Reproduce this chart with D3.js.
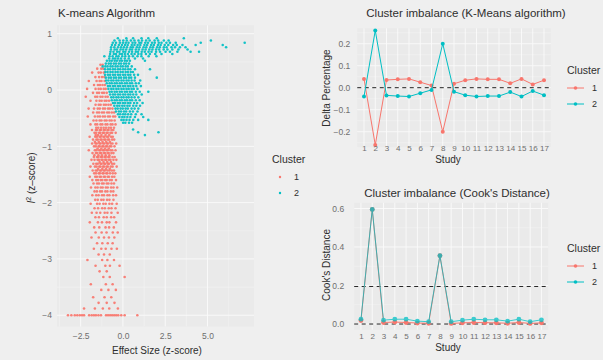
<!DOCTYPE html>
<html>
<head>
<meta charset="utf-8">
<script src="https://cdn.jsdelivr.net/npm/d3@7"></script>
<style>
  body { margin: 0; background: #efefef; }
  svg { display: block; font-family: "Liberation Sans", Arial, sans-serif; }
</style>
</head>
<body>
<div id="chart"></div>
<script>
// ---- data ----
var clusters = ["1", "2"];
var colors = ["#F8766D", "#00BFC4"];

// scatter rows: [y, x1, x2, ...]
var redRows = [
  [0.45, -1.2, -1.33],
  [0.38, -1.16, -1.28, -1.52],
  [0.31, -1.13, -1.31, -1.44, -1.82],
  [0.23, -1.1, -1.24, -1.41, -1.63],
  [0.16, -1.08, -1.27, -1.38, -1.56, -2.02],
  [0.09, -1.07, -1.21, -1.36, -1.48, -1.71],
  [0.02, -1.02, -1.14, -1.31, -1.44, -1.62, -2.12],
  [-0.05, -0.96, -1.12, -1.23, -1.41, -1.53, -1.77],
  [-0.12, -0.9, -1.03, -1.21, -1.33, -1.52, -1.64, -2.2],
  [-0.19, -0.82, -0.97, -1.08, -1.26, -1.38, -1.57, -1.92],
  [-0.26, -0.72, -0.86, -1.01, -1.13, -1.32, -1.43, -1.62],
  [-0.33, -0.62, -0.77, -0.88, -1.06, -1.18, -1.37, -1.49, -1.71, -2.03],
  [-0.40, -0.52, -0.66, -0.82, -0.93, -1.12, -1.24, -1.41, -1.53, -1.76],
  [-0.47, -0.46, -0.58, -0.77, -0.88, -1.06, -1.19, -1.36, -1.49, -1.66, -2.08],
  [-0.54, -0.49, -0.67, -0.79, -0.97, -1.08, -1.27, -1.38, -1.57, -1.74],
  [-0.61, -0.44, -0.62, -0.73, -0.92, -1.03, -1.22, -1.33, -1.52, -1.63, -1.92],
  [-0.67, -0.53, -0.71, -0.84, -1.0, -1.14, -1.29, -1.46, -1.58],
  [-0.71, -1.83, -1.6, -1.52, -1.36, -1.3, -1.14, -1.07, -0.92, -0.85, -0.68, -0.57],
  [-0.76, -1.68, -1.58, -1.41, -1.34, -1.19, -1.12, -0.97, -0.9, -0.74, -0.64, -0.43],
  [-0.80, -1.47, -1.27, -1.03, -0.81, -1.61],
  [-0.83, -1.97, -1.64, -1.54, -1.38, -1.31, -1.16, -1.09, -0.94, -0.87, -0.7, -0.6],
  [-0.88, -1.77, -1.57, -1.49, -1.33, -1.26, -1.11, -1.04, -0.89, -0.82, -0.64, -0.52],
  [-0.92, -1.43, -1.21, -0.99, -0.77, -1.66],
  [-0.95, -1.82, -1.62, -1.55, -1.39, -1.32, -1.17, -1.1, -0.95, -0.88, -0.72, -0.62, -0.4],
  [-1.00, -1.71, -1.6, -1.44, -1.37, -1.22, -1.15, -1.0, -0.93, -0.78, -0.69, -0.5],
  [-1.04, -1.5, -1.28, -1.06, -0.84],
  [-1.07, -2.02, -1.66, -1.57, -1.41, -1.34, -1.19, -1.12, -0.97, -0.9, -0.74, -0.63, -0.44],
  [-1.12, -1.8, -1.6, -1.51, -1.35, -1.28, -1.13, -1.06, -0.91, -0.84, -0.68, -0.56],
  [-1.16, -1.45, -1.24, -1.02, -0.8, -1.69],
  [-1.19, -1.72, -1.54, -1.46, -1.31, -1.24, -1.09, -1.02, -0.87, -0.8, -0.62, -0.49],
  [-1.24, -1.86, -1.68, -1.5, -1.42, -1.27, -1.2, -1.05, -0.98, -0.83, -0.74, -0.56, -0.39],
  [-1.28, -1.38, -1.15, -0.93, -0.71],
  [-1.31, -1.75, -1.58, -1.49, -1.33, -1.26, -1.11, -1.04, -0.89, -0.82, -0.64, -0.52],
  [-1.36, -1.92, -1.66, -1.56, -1.4, -1.33, -1.18, -1.11, -0.96, -0.89, -0.72, -0.61, -0.37],
  [-1.40, -1.47, -1.22, -1.0, -0.78],
  [-1.43, -1.79, -1.61, -1.52, -1.36, -1.29, -1.14, -1.07, -0.92, -0.8, -0.66, -0.53],
  [-1.48, -1.7, -1.59, -1.43, -1.36, -1.21, -1.14, -0.99, -0.92, -0.76, -0.6, -0.45],
  [-1.54, -1.96, -1.64, -1.54, -1.38, -1.3, -1.14, -1.06, -0.9, -0.82, -0.64, -0.51],
  [-1.60, -1.81, -1.58, -1.47, -1.31, -1.22, -1.05, -0.96, -0.78, -0.66, -0.41],
  [-1.66, -1.74, -1.53, -1.42, -1.24, -1.14, -0.96, -0.86, -0.68, -0.53],
  [-1.73, -1.89, -1.63, -1.5, -1.31, -1.2, -1.01, -0.9, -0.7, -0.56, -0.34],
  [-1.80, -1.68, -1.54, -1.35, -1.24, -1.04, -0.92, -0.72, -0.57],
  [-1.87, -1.81, -1.58, -1.44, -1.24, -1.12, -0.92, -0.8, -0.58, -0.41],
  [-1.95, -1.64, -1.49, -1.28, -1.15, -0.94, -0.8, -0.56],
  [-2.02, -1.91, -1.53, -1.38, -1.16, -1.02, -0.8, -0.64, -0.37],
  [-2.10, -1.68, -1.47, -1.23, -1.07, -0.84, -0.68, -0.44],
  [-2.18, -1.84, -1.56, -1.34, -1.08, -0.92, -0.68, -0.31],
  [-2.26, -1.63, -1.42, -1.14, -0.96, -0.7, -0.52],
  [-2.35, -1.96, -1.48, -1.24, -0.96, -0.8, -0.41],
  [-2.44, -1.7, -1.4, -1.03, -0.82, -0.54],
  [-2.53, -1.62, -1.26, -0.97, -0.6, -0.31],
  [-2.62, -1.86, -1.43, -1.12, -0.83, -0.51],
  [-2.72, -1.53, -1.22, -0.9, -0.61],
  [-2.82, -1.72, -1.28, -1.02, -0.68, -0.36],
  [-2.92, -1.44, -1.12, -0.78],
  [-3.02, -2.1, -1.23, -0.92, -0.53],
  [-3.12, -1.62, -1.04, -0.77, -0.2],
  [-3.22, -1.38, -0.96],
  [-3.32, -1.16, -0.78, 0.1],
  [-3.45, -1.9, -1.01, -0.61],
  [-3.55, -1.28, -0.86, -0.42],
  [-3.68, -1.76, -1.09, -0.69],
  [-3.78, -1.44, -0.96, -0.5],
  [-3.88, -2.3, -1.66, -1.19, -0.81, -0.3],
  [-4.00, -3.25, -3.05, -2.85, -2.7, -2.55, -2.42, -2.3, -2.0, -1.85, -1.72, -1.6, -1.45, -1.3,
          -1.0, -0.88, -0.76, -0.64, -0.52, -0.4, -0.28, -0.1, 0.1, 0.85]
];

var cyanRows = [
  [0.92, -0.3, 0.2, 0.6, 1.1, 1.5, 2.0, 3.6],
  [0.88, -0.5, -0.2, 0.02, 0.23, 0.47, 0.68, 0.92, 1.13, 1.37, 1.58, 1.87, 2.08, 2.42, 2.7, 5.2],
  [0.84, -0.6, -0.41, -0.18, 0.0, 0.17, 0.33, 0.57, 0.73, 0.97, 1.08, 1.32, 1.48, 1.72, 1.88, 2.12, 2.28, 2.57, 2.78, 3.12, 4.6, 7.2],
  [0.80, -0.65, -0.46, -0.24, -0.06, 0.12, 0.28, 0.52, 0.68, 0.87, 1.03, 1.27, 1.43, 1.67, 1.83, 2.07, 2.23, 2.47, 2.68, 2.97, 3.18, 3.52, 4.3, 5.9],
  [0.76, -0.7, -0.51, -0.29, -0.11, 0.06, 0.24, 0.46, 0.59, 0.82, 0.98, 1.22, 1.38, 1.62, 1.78, 2.02, 2.18, 2.42, 2.58, 2.87, 3.08, 3.37, 3.7, 6.1],
  [0.72, -0.71, -0.49, -0.36, -0.14, 0.01, 0.19, 0.41, 0.54, 0.76, 0.94, 1.16, 1.34, 1.56, 1.74, 1.96, 2.14, 2.41, 2.63, 2.92, 3.28, 3.82],
  [0.68, -0.74, -0.56, -0.34, -0.21, 0.02, 0.14, 0.36, 0.54, 0.76, 0.89, 1.11, 1.29, 1.51, 1.69, 1.96, 2.19, 2.52, 2.78, 3.22, 4.0, 4.5],
  [0.64, -0.76, -0.54, -0.41, -0.19, -0.06, 0.11, 0.29, 0.51, 0.69, 0.91, 1.09, 1.36, 1.59, 1.91, 2.28, 2.92],
  [0.60, -1.1, -0.79, -0.61, -0.39, -0.26, -0.04, 0.14, 0.36, 0.59, 0.86, 1.09, 1.52, 1.98],
  [0.56, -0.81, -0.59, -0.46, -0.29, -0.11, 0.11, 0.34, 0.71, 1.19],
  [0.52, -0.95, -0.79, -0.66, -0.49, -0.36, -0.19, -0.06, 0.11, 0.24, 0.41, 1.3],
  [0.47, -1.01, -0.84, -0.71, -0.54, -0.41, -0.24, -0.11, 0.06, 0.19, 0.36],
  [0.42, -1.2, -1.04, -0.91, -0.74, -0.61, -0.44, -0.31, -0.14, -0.01, 0.16, 0.29, 0.52],
  [0.37, -1.06, -0.89, -0.76, -0.59, -0.46, -0.29, -0.16, 0.01, 0.14, 0.31, 0.44, 0.71, 1.6],
  [0.32, -1.04, -0.91, -0.74, -0.61, -0.44, -0.31, -0.14, -0.01, 0.16, 0.29, 0.46, 0.59],
  [0.27, -1.06, -0.89, -0.76, -0.59, -0.46, -0.29, -0.16, 0.01, 0.14, 0.31, 0.44, 0.66, 0.89],
  [0.22, -1.01, -0.84, -0.71, -0.54, -0.41, -0.24, -0.11, 0.06, 0.19, 0.36, 0.49, 0.71, 2.0],
  [0.17, -0.99, -0.86, -0.69, -0.56, -0.39, -0.26, -0.09, 0.04, 0.21, 0.34, 0.51, 0.69, 1.02],
  [0.12, -0.96, -0.79, -0.66, -0.49, -0.36, -0.19, -0.06, 0.11, 0.24, 0.41, 0.54, 0.76, 0.94],
  [0.07, -0.89, -0.76, -0.59, -0.46, -0.29, -0.16, 0.01, 0.14, 0.31, 0.44, 0.61, 0.79, 1.06],
  [0.02, -0.86, -0.69, -0.56, -0.39, -0.26, -0.09, 0.04, 0.21, 0.34, 0.51, 0.64, 0.86],
  [-0.03, -0.79, -0.66, -0.49, -0.36, -0.19, -0.06, 0.11, 0.24, 0.41, 0.54, 0.76, 0.99, 1.5],
  [-0.08, -0.76, -0.59, -0.46, -0.29, -0.16, 0.01, 0.14, 0.31, 0.44, 0.61, 0.79, 1.11],
  [-0.13, -0.69, -0.56, -0.39, -0.26, -0.09, 0.04, 0.21, 0.34, 0.51, 0.69, 0.91],
  [-0.18, -0.66, -0.49, -0.36, -0.19, -0.06, 0.11, 0.24, 0.41, 0.54, 0.76, 0.99],
  [-0.23, -0.59, -0.46, -0.29, -0.16, 0.01, 0.14, 0.31, 0.44, 0.66, 0.84, 1.16],
  [-0.28, -0.51, -0.34, -0.21, -0.04, 0.09, 0.26, 0.39, 0.61, 0.79, 1.01],
  [-0.33, -0.44, -0.31, -0.14, -0.01, 0.16, 0.29, 0.51, 0.69, 0.91],
  [-0.38, -0.41, -0.24, -0.11, 0.06, 0.19, 0.41, 0.59, 0.86],
  [-0.43, -0.29, -0.16, 0.01, 0.14, 0.31, 0.49, 0.76, 1.1],
  [-0.48, -0.21, -0.04, 0.09, 0.26, 0.44, 0.71, 1.2],
  [-0.53, -0.09, 0.04, 0.21, 0.39, 0.61, 0.9, 1.5],
  [-0.58, 0.01, 0.14, 0.36, 0.54],
  [-0.70, 0.6],
  [-0.75, 0.9, 2.1],
  [-0.80, 1.3]
];

// line panels
var studies = [1, 2, 3, 4, 5, 6, 7, 8, 9, 10, 11, 12, 13, 14, 15, 16, 17];
var delta1 = [0.04, -0.26, 0.035, 0.038, 0.04, 0.025, 0.01, -0.2, 0.018, 0.034, 0.04, 0.038, 0.038, 0.02, 0.04, 0.015, 0.034];
var delta2 = [-0.04, 0.26, -0.035, -0.038, -0.04, -0.025, -0.01, 0.2, -0.018, -0.034, -0.04, -0.038, -0.038, -0.02, -0.04, -0.015, -0.034];
var cook1 = [0.018, 0.595, 0.008, 0.01, 0.008, 0.005, 0.004, 0.355, 0.003, 0.006, 0.008, 0.007, 0.006, 0.004, 0.008, 0.003, 0.006];
var cook2 = [0.025, 0.595, 0.02, 0.025, 0.025, 0.015, 0.012, 0.355, 0.012, 0.02, 0.025, 0.022, 0.022, 0.015, 0.025, 0.012, 0.022];
var cookCutoff = 0.195;

var effectTicks = [-2.5, 0, 2.5, 5];
var i2Ticks = [-4, -3, -2, -1, 0, 1];
var deltaTicks = [-0.2, -0.1, 0, 0.1, 0.2];
var cookTicks = [0, 0.2, 0.4, 0.6];

// ---- drawing ----
var svg = d3.select("#chart").append("svg")
    .attr("width", 603)
    .attr("height", 360);

// soft focus like the photographed original
svg.append("defs").append("filter").attr("id", "soft")
    .append("feGaussianBlur").attr("stdDeviation", 0.45);

svg.append("rect").attr("width", 603).attr("height", 360).attr("fill", "#efefef");

var tickColor = "#6e6e6e", titleColor = "#2e2e2e";

// panel background + grid
function panel(x, y, xMajor, xMinor, yMajor, yMinor) {
    var g = svg.append("g");
    var xr = x.range(), yr = y.range();
    g.append("rect")
        .attr("x", xr[0]).attr("y", yr[1])
        .attr("width", xr[1] - xr[0]).attr("height", yr[0] - yr[1])
        .attr("fill", "#eaeaea");
    g.selectAll(".vmin").data(xMinor).enter().append("line")
        .attr("x1", d => x(d)).attr("x2", d => x(d))
        .attr("y1", yr[0]).attr("y2", yr[1])
        .attr("stroke", "#f5f5f5").attr("stroke-width", 0.5);
    g.selectAll(".hmin").data(yMinor).enter().append("line")
        .attr("y1", d => y(d)).attr("y2", d => y(d))
        .attr("x1", xr[0]).attr("x2", xr[1])
        .attr("stroke", "#f5f5f5").attr("stroke-width", 0.5);
    g.selectAll(".vmaj").data(xMajor).enter().append("line")
        .attr("x1", d => x(d)).attr("x2", d => x(d))
        .attr("y1", yr[0]).attr("y2", yr[1])
        .attr("stroke", "#fafafa").attr("stroke-width", 0.9);
    g.selectAll(".hmaj").data(yMajor).enter().append("line")
        .attr("y1", d => y(d)).attr("y2", d => y(d))
        .attr("x1", xr[0]).attr("x2", xr[1])
        .attr("stroke", "#fafafa").attr("stroke-width", 0.9);
    return g;
}

function styleAxis(g, size) {
    g.select(".domain").remove();
    g.selectAll(".tick line").remove();
    g.selectAll("text")
        .attr("fill", tickColor)
        .style("font-size", size + "px")
        .style("font-family", "'Liberation Sans', Arial, sans-serif");
}

function text(x, y, str, size, anchor, color) {
    return svg.append("text")
        .attr("x", x).attr("y", y)
        .attr("text-anchor", anchor || "start")
        .attr("fill", color || titleColor)
        .style("font-size", size + "px")
        .text(str);
}

// ===== left: K-means scatter =====
var xS = d3.scaleLinear().domain([-3.9, 7.75]).range([57, 254]);
var yS = d3.scaleLinear().domain([-4.2, 1.15]).range([326.5, 25.3]);

panel(xS, yS, effectTicks, [-3.75, -1.25, 1.25, 3.75, 6.25], i2Ticks, [-3.5, -2.5, -1.5, -0.5, 0.5]);

function rowsToPoints(rows) {
    return rows.flatMap(r => r.slice(1).map(x => ({ x: x, y: r[0] })));
}

var scatter = svg.append("g").attr("filter", "url(#soft)");
[redRows, cyanRows].forEach(function(rows, i) {
    scatter.append("g").selectAll("circle")
        .data(rowsToPoints(rows))
        .enter().append("circle")
        .attr("cx", d => xS(d.x))
        .attr("cy", d => yS(d.y))
        .attr("r", 1.3)
        .attr("fill", colors[i])
        .attr("opacity", 0.92);
});

var gx = svg.append("g").attr("transform", "translate(0,326.5)")
    .call(d3.axisBottom(xS).tickValues(effectTicks).tickFormat(d3.format(".1f")).tickSize(0).tickPadding(6));
styleAxis(gx, 8.5);
var gy = svg.append("g").attr("transform", "translate(57,0)")
    .call(d3.axisLeft(yS).tickValues(i2Ticks).tickFormat(d3.format("d")).tickSize(0).tickPadding(5));
styleAxis(gy, 8.5);

text(58, 17, "K-means Algorithm", 11.5);
text(157, 354, "Effect Size (z-score)", 10, "middle");
var yt = svg.append("text")
    .attr("transform", "translate(35,178) rotate(-90)")
    .attr("text-anchor", "middle")
    .attr("fill", titleColor)
    .style("font-size", "10px");
yt.append("tspan").style("font-style", "italic").text("I");
yt.append("tspan").attr("dy", -4).style("font-size", "7px").text("2");
yt.append("tspan").attr("dy", 4).text(" (z\u2013score)");

// left legend
text(272, 163, "Cluster", 10.5);
clusters.forEach(function(c, i) {
    svg.append("circle").attr("cx", 280).attr("cy", 177 + i * 16).attr("r", 1.2).attr("fill", colors[i]);
    text(294, 180 + i * 16, c, 9);
});

// ===== line panels =====
function linePanel(opt) {
    var x = d3.scaleLinear().domain([0.4, 17.6]).range(opt.xRange);
    var y = d3.scaleLinear().domain(opt.yDomain).range(opt.yRange);
    panel(x, y, studies, [], opt.yTicks, opt.yMinor);

    svg.append("g").selectAll("line")
        .data(opt.refs).enter().append("line")
        .attr("x1", opt.xRange[0]).attr("x2", opt.xRange[1])
        .attr("y1", d => y(d)).attr("y2", d => y(d))
        .attr("stroke", "#222").attr("stroke-width", 1)
        .attr("stroke-dasharray", "4,3.5");

    var line = d3.line().x((d, i) => x(studies[i])).y(d => y(d));
    opt.series.forEach(function(vals, k) {
        var g = svg.append("g").attr("opacity", k === 1 ? opt.topOpacity : 1);
        g.append("path").datum(vals)
            .attr("d", line)
            .attr("fill", "none")
            .attr("stroke", colors[k])
            .attr("stroke-width", 1);
        g.selectAll("circle").data(vals).enter().append("circle")
            .attr("cx", (d, i) => x(studies[i]))
            .attr("cy", d => y(d))
            .attr("r", opt.r)
            .attr("fill", colors[k]);
    });

    var ax = svg.append("g").attr("transform", "translate(0," + opt.xAxisY + ")")
        .call(d3.axisBottom(x).tickValues(studies).tickFormat(d3.format("d")).tickSize(0).tickPadding(0));
    styleAxis(ax, 8);
    var ay = svg.append("g").attr("transform", "translate(" + opt.xRange[0] + ",0)")
        .call(d3.axisLeft(y).tickValues(opt.yTicks).tickFormat(d3.format(".1f")).tickSize(0).tickPadding(opt.yPad));
    styleAxis(ay, 8.5);

    text(opt.titleX, opt.titleY, opt.title, 11.5, "middle");
    text(448, opt.xAxisY + 18, "Study", 10, "middle");
    svg.append("text")
        .attr("transform", "translate(330," + opt.yTitleY + ") rotate(-90)")
        .attr("text-anchor", "middle")
        .attr("fill", titleColor)
        .style("font-size", "10px")
        .text(opt.yTitle);

    // legend
    text(567, opt.legendY, "Cluster", 10.5);
    clusters.forEach(function(c, i) {
        var ly = opt.legendY + 14 + i * 16;
        svg.append("line").attr("x1", 567).attr("x2", 584).attr("y1", ly).attr("y2", ly)
            .attr("stroke", colors[i]).attr("stroke-width", 1);
        svg.append("circle").attr("cx", 575.5).attr("cy", ly).attr("r", 1.8).attr("fill", colors[i]);
        text(592, ly + 3, c, 9);
    });
}

linePanel({
    xRange: [357.25, 550.75],
    yDomain: [-0.27, 0.27], yRange: [147.1, 28.3],
    yTicks: deltaTicks, yMinor: [-0.25, -0.15, -0.05, 0.05, 0.15, 0.25],
    refs: [0],
    series: [delta1, delta2], r: 2, topOpacity: 1,
    xAxisY: 145, yPad: 7,
    title: "Cluster imbalance (K-Means algorithm)", titleX: 466, titleY: 17,
    yTitle: "Delta Percentage", yTitleY: 88,
    legendY: 74
});

linePanel({
    xRange: [354.2, 548.2],
    yDomain: [-0.03, 0.63], yRange: [329.8, 202.7],
    yTicks: cookTicks, yMinor: [0.1, 0.3, 0.5],
    refs: [0, cookCutoff],
    series: [cook1, cook2], r: 2.4, topOpacity: 0.75,
    xAxisY: 333, yPad: 10,
    title: "Cluster imbalance (Cook's Distance)", titleX: 457, titleY: 197,
    yTitle: "Cook's Distance", yTitleY: 265,
    legendY: 252
});
</script>
</body>
</html>
